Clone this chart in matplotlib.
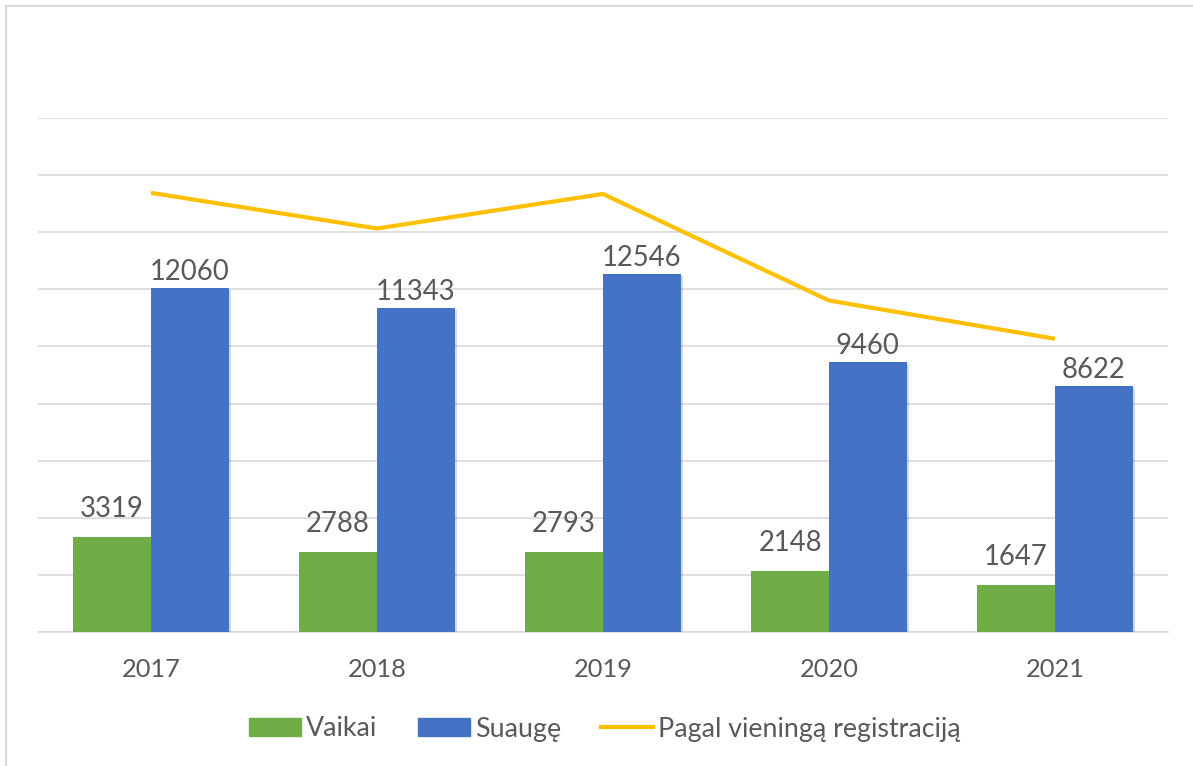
import numpy as np
import matplotlib.pyplot as plt
import matplotlib.patheffects as pe
from matplotlib.patches import Patch, Rectangle
from matplotlib.lines import Line2D

plt.rcParams['font.family'] = ['Lato', 'DejaVu Sans']

# Datos
metai = ['2017', '2018', '2019', '2020', '2021']
vaikai = [3319, 2788, 2793, 2148, 1647]
suauge = [12060, 11343, 12546, 9460, 8622]
registracija = [15379, 14131, 15339, 11608, 10269]

zalia = '#70AD47'
melyna = '#4472C4'
geltona = '#FFC000'
tekstas = '#595959'
tinklelis = '#D9D9D9'

W, H = 1193, 766
fig = plt.figure(figsize=(W / 100, H / 100), dpi=100)
ax = fig.add_axes([38 / W, 1 - 632 / H, 1130 / W, 514 / H])

x = np.arange(len(metai))
w = 0.344
seselis = [pe.SimplePatchShadow(offset=(1.5, -1.5), shadow_rgbFace='#000000', alpha=0.15), pe.Normal()]

b1 = ax.bar(x - w / 2, vaikai, w, color=zalia, zorder=3)
b2 = ax.bar(x + w / 2, suauge, w, color=melyna, zorder=3)
for b in list(b1) + list(b2):
    b.set_path_effects(seselis)

ax.plot(x, registracija, color=geltona, lw=3, zorder=4, solid_capstyle='butt')

# Reikšmės virš stulpelių
for xi, v in zip(x - w / 2, vaikai):
    ax.annotate(str(v), (xi, v), xytext=(0, 14.4), textcoords='offset points',
                ha='center', va='baseline', fontsize=19.8, color=tekstas)
for xi, v in zip(x + w / 2, suauge):
    ax.annotate(str(v), (xi, v), xytext=(0, 5.8), textcoords='offset points',
                ha='center', va='baseline', fontsize=19.8, color=tekstas)

ax.set_xlim(-0.5, len(metai) - 0.5)
ax.set_ylim(0, 18000)
ax.set_yticks(np.arange(0, 18001, 2000))
ax.set_yticklabels([])
ax.grid(axis='y', color=tinklelis, lw=1.2, zorder=0)
ax.tick_params(axis='y', length=0)
ax.set_xticks(x)
ax.set_xticklabels(metai, fontsize=18.3, color=tekstas)
ax.tick_params(axis='x', length=0, pad=19)
for s in ['top', 'right', 'left']:
    ax.spines[s].set_visible(False)
ax.spines['bottom'].set_color(tinklelis)
ax.spines['bottom'].set_linewidth(1.2)

rankenos = [Patch(color=zalia), Patch(color=melyna), Line2D([], [], color=geltona, lw=3)]
fig.legend(rankenos, ['Vaikai', 'Suaugę', 'Pagal vieningą registraciją'],
           loc='center', bbox_to_anchor=(605 / W, 1 - 729 / H), ncol=3, frameon=False,
           fontsize=19.3, labelcolor=tekstas, handlelength=1.94, handleheight=0.63,
           handletextpad=0.19, columnspacing=1.5)

# Rėmelis
fig.add_artist(Rectangle((6 / W, -0.1), 1.2, (H - 6) / H + 0.1, transform=fig.transFigure,
                         fill=False, edgecolor=tinklelis, lw=1.5))

fig.savefig('out.png', dpi=100)
